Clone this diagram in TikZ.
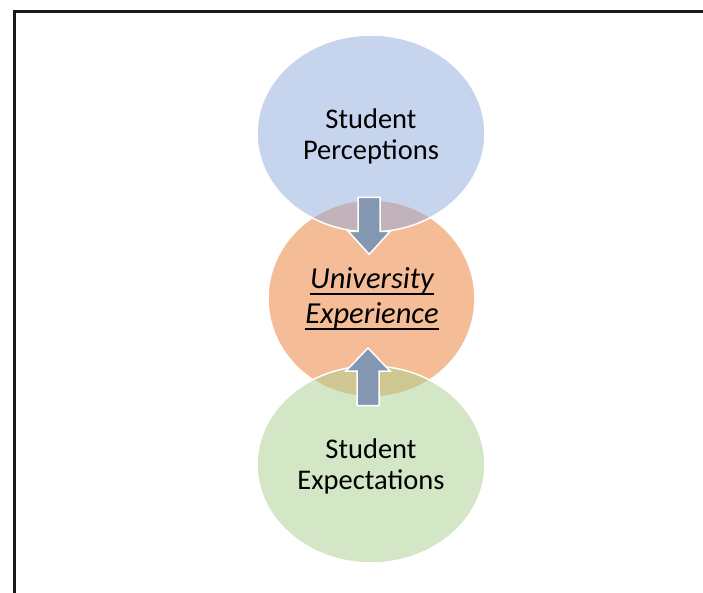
\documentclass[tikz,border=0pt]{standalone}
\usepackage{fontspec}
\setmainfont{Carlito}
\usetikzlibrary{shapes.geometric}

\definecolor{framegray}{HTML}{1A1A1A}
\definecolor{percblue}{HTML}{8FAADC}
\definecolor{uniorange}{HTML}{ED7D31}
\definecolor{expgreen}{HTML}{A9D18E}
\definecolor{arrowblue}{HTML}{8497B0}

% underline that sits close to the baseline and crosses the descenders
\newcommand{\lowul}[1]{\setbox0\hbox{#1}\rlap{\rule[-0.23em]{\wd0}{0.08em}}\box0}

\begin{document}
\begin{tikzpicture}[x=1pt,y=-1pt,
  bubble/.style={ellipse,draw=white,line width=1.5pt,fill opacity=0.5,
    minimum width=#1},
  label/.style={text=black,align=center,font=\fontsize{28.5}{31}\selectfont},
  blockarrow/.style={fill=arrowblue,draw=white,line width=1.5pt,line join=miter}]
  \useasboundingbox (0,0) rectangle (703,593);
  \fill[white] (0,0) rectangle (703,593);
  \draw[framegray,line width=2.5pt] (14.3,11.5) rectangle (720,610);

  % the three bubbles
  \node[bubble=207pt,minimum height=197pt,fill=uniorange] (uni) at (371.5,298.5) {};
  \node[bubble=228pt,minimum height=197pt,fill=percblue] (perc) at (371,133.5) {};
  \node[bubble=228pt,minimum height=197pt,fill=expgreen] (exp) at (371,464.5) {};

  % block arrows pointing into the middle bubble
  \coordinate (downtop) at (369.2,197.3);
  \coordinate (uptop) at (368,405.5);
  \draw[blockarrow] ([xshift=-11pt]downtop) -- ([xshift=11pt]downtop)
    -- ([xshift=11pt,yshift=-34pt]downtop) -- ([xshift=21pt,yshift=-34pt]downtop)
    -- ([yshift=-57pt]downtop) -- ([xshift=-21pt,yshift=-34pt]downtop)
    -- ([xshift=-11pt,yshift=-34pt]downtop) -- cycle;
  \draw[blockarrow] ([xshift=-11pt]uptop) -- ([xshift=11pt]uptop)
    -- ([xshift=11pt,yshift=34.5pt]uptop) -- ([xshift=22pt,yshift=34.5pt]uptop)
    -- ([yshift=57.5pt]uptop) -- ([xshift=-22pt,yshift=34.5pt]uptop)
    -- ([xshift=-11pt,yshift=34.5pt]uptop) -- cycle;

  % texts
  \node[label] (perctext) at (371,136) {Student\\Perceptions};
  \node[label,font=\fontsize{30.5}{35}\selectfont\itshape] (unitext) at (372,299)
    {\lowul{University}\\\lowul{Experience}};
  \node[label] (exptext) at (371,466.5) {Student\\Expectations};
\end{tikzpicture}
\end{document}
